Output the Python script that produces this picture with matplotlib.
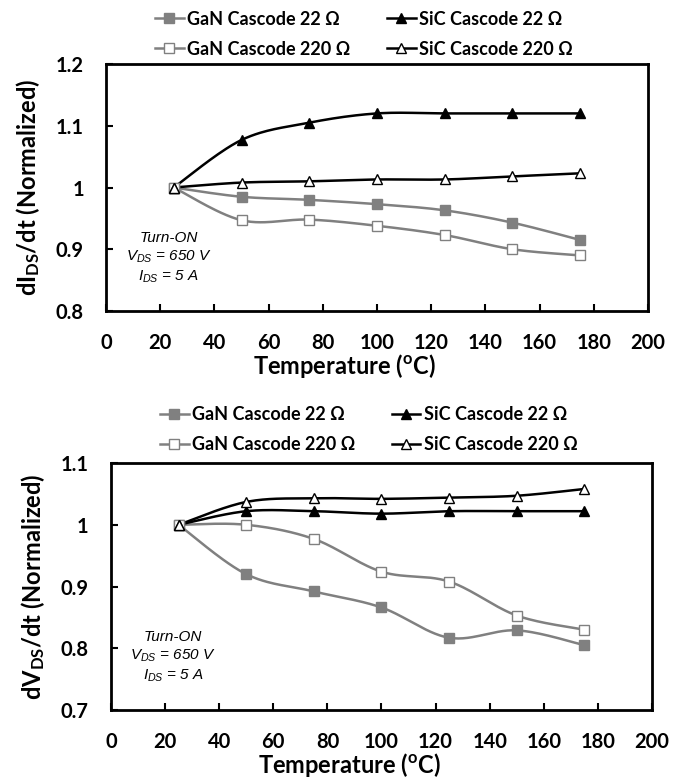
import numpy as np
import matplotlib
matplotlib.use("Agg")
import matplotlib.pyplot as plt

plt.rcParams['font.family'] = ['Lato', 'DejaVu Sans']
plt.rcParams['mathtext.fontset'] = 'custom'
plt.rcParams['mathtext.rm'] = 'Lato:weight=bold'
plt.rcParams['mathtext.it'] = 'Liberation Sans:style=italic:weight=normal'
plt.rcParams['mathtext.default'] = 'rm'

temps = [25, 50, 75, 100, 125, 150, 175]

# dI/dt, normalized to 25 C
di_gan_22 = [1.0, 0.985, 0.980, 0.973, 0.963, 0.943, 0.915]
di_gan_220 = [1.0, 0.947, 0.948, 0.938, 0.923, 0.900, 0.890]
di_sic_22 = [1.0, 1.077, 1.105, 1.120, 1.120, 1.120, 1.120]
di_sic_220 = [1.0, 1.008, 1.010, 1.013, 1.013, 1.018, 1.023]

# dV/dt, normalized to 25 C
dv_gan_22 = [1.0, 0.920, 0.892, 0.866, 0.817, 0.829, 0.805]
dv_gan_220 = [1.0, 1.000, 0.977, 0.924, 0.908, 0.853, 0.830]
dv_sic_22 = [1.0, 1.022, 1.022, 1.018, 1.022, 1.022, 1.022]
dv_sic_220 = [1.0, 1.037, 1.043, 1.042, 1.044, 1.047, 1.058]

labels = ['GaN Cascode 22 \u03a9', 'GaN Cascode 220 \u03a9',
          'SiC Cascode 22 \u03a9', 'SiC Cascode 220 \u03a9']

GRAY = '#808080'


def smooth(x, y, n=30):
    # catmull-rom curve through the points, like a spreadsheet "smoothed line"
    x = np.asarray(x, float)
    y = np.asarray(y, float)
    px = np.concatenate([[x[0]], x, [x[-1]]])
    py = np.concatenate([[y[0]], y, [y[-1]]])
    xs, ys = [], []
    t = np.linspace(0, 1, n)
    for i in range(1, len(px) - 2):
        for p, out in ((px, xs), (py, ys)):
            p0, p1, p2, p3 = p[i - 1], p[i], p[i + 1], p[i + 2]
            out.extend(0.5 * ((2 * p1) + (-p0 + p2) * t
                              + (2 * p0 - 5 * p1 + 4 * p2 - p3) * t ** 2
                              + (-p0 + 3 * p1 - 3 * p2 + p3) * t ** 3))
    return xs, ys


def draw(ax, series, ylim, yticks, ylabel, leg_y):
    styles = [
        dict(color=GRAY, marker='s', mfc=GRAY, mec=GRAY),
        dict(color=GRAY, marker='s', mfc='white', mec=GRAY),
        dict(color='black', marker='^', mfc='black', mec='black'),
        dict(color='black', marker='^', mfc='white', mec='black'),
    ]
    handles = []
    for vals, st, lab in zip(series, styles, labels):
        sx, sy = smooth(temps, vals)
        ax.plot(sx, sy, color=st['color'], lw=1.8, zorder=2)
        ax.plot(temps, vals, ls='none', marker=st['marker'], ms=7,
                mfc=st['mfc'], mec=st['mec'], mew=1.0, zorder=3)
        h, = ax.plot([], [], color=st['color'], lw=1.8, marker=st['marker'],
                     ms=7, mfc=st['mfc'], mec=st['mec'], mew=1.0)
        handles.append(h)

    ax.set_xlim(0, 200)
    ax.set_ylim(*ylim)
    ax.set_xticks(range(0, 201, 20))
    ax.set_yticks(yticks)
    ax.set_yticklabels([('%g' % v) for v in yticks])
    ax.tick_params(direction='in', length=5, width=1.5, labelsize=14.5, pad=16)
    for lbl in ax.get_xticklabels() + ax.get_yticklabels():
        lbl.set_fontweight('bold')
    for s in ax.spines.values():
        s.set_linewidth(2)
    ax.set_xlabel('Temperature ($^{o}$C)', fontsize=17, fontweight='bold')
    ax.xaxis.set_label_coords(0.44, -0.168)
    ax.set_ylabel(ylabel, fontsize=17, fontweight='bold', labelpad=10)

    ax.legend(handles, labels, ncol=2, loc='lower left',
              bbox_to_anchor=(0.06, leg_y), frameon=False,
              prop=dict(size=13, weight='bold'),
              handlelength=1.6, handletextpad=0.2,
              columnspacing=2.0, labelspacing=0.72)


def note(ax, x, y):
    ax.text(x, y, 'Turn-ON\n$\\mathit{V_{DS}}$ = 650 V\n$\\mathit{I_{DS}}$ = 5 A',
            transform=ax.transAxes, ha='center', va='center',
            fontsize=11, family='Liberation Sans', style='italic',
            weight='normal', linespacing=1.3)


fig = plt.figure(figsize=(6.81, 7.79), dpi=100)

ax1 = fig.add_axes([0.1557, 0.6008, 0.7958, 0.3170])
draw(ax1, [di_gan_22, di_gan_220, di_sic_22, di_sic_220],
     (0.8, 1.2), [0.8, 0.9, 1.0, 1.1, 1.2],
     'dI$_{DS}$/dt (Normalized)', 0.96)
note(ax1, 0.116, 0.215)

ax2 = fig.add_axes([0.1630, 0.0886, 0.7944, 0.3170])
draw(ax2, [dv_gan_22, dv_gan_220, dv_sic_22, dv_sic_220],
     (0.7, 1.1), [0.7, 0.8, 0.9, 1.0, 1.1],
     'dV$_{DS}$/dt (Normalized)', 0.975)
note(ax2, 0.115, 0.215)

fig.savefig('out.png', dpi=100)
